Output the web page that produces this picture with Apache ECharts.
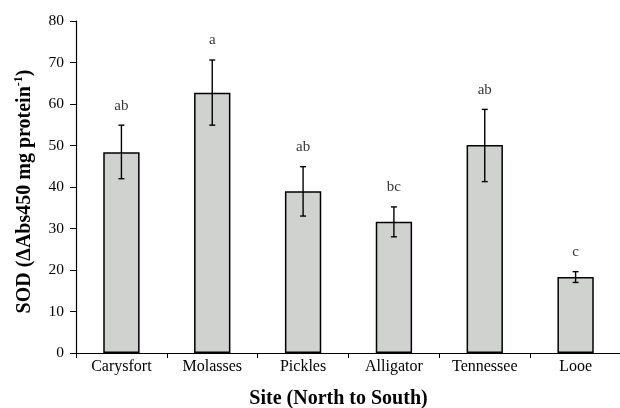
<!DOCTYPE html>
<html>
<head>
<meta charset="utf-8">
<script src="https://cdn.jsdelivr.net/npm/echarts@6/dist/echarts.min.js"></script>
<style>html,body{margin:0;padding:0;background:#fff}#c{width:620px;height:408px}</style>
</head>
<body>
<div id="c"></div>
<script>
var categories = ['Carysfort', 'Molasses', 'Pickles', 'Alligator', 'Tennessee', 'Looe'];
var means = [48.4, 62.7, 39.0, 31.6, 50.1, 18.3];
var errLow = [42.0, 54.9, 33.0, 28.0, 41.3, 17.0];
var errHigh = [54.9, 70.6, 44.9, 35.2, 58.7, 19.6];
var letters = ['ab', 'a', 'ab', 'bc', 'ab', 'c'];
var yTicks = [0, 10, 20, 30, 40, 50, 60, 70, 80];

var FONT = '"Liberation Serif", "Times New Roman", serif';
var chart = echarts.init(document.getElementById('c'));
chart.setOption({
  animation: false,
  backgroundColor: '#fff',
  grid: { left: 76, right: -1, top: 21, bottom: 55, containLabel: false, outerBoundsMode: 'none' },
  xAxis: {
    type: 'category',
    data: categories,
    boundaryGap: true,
    name: 'Site (North to South)',
    nameLocation: 'middle',
    nameGap: 36,
    nameTextStyle: { fontFamily: FONT, fontSize: 20, fontWeight: 'bold', color: '#000', padding: [0, 20, 0, 0] },
    axisLine: { lineStyle: { color: '#000', width: 1.2 } },
    axisTick: { show: true, length: 5, lineStyle: { color: '#000' } },
    axisLabel: { fontFamily: FONT, fontSize: 16, color: '#000', margin: 6 }
  },
  yAxis: {
    type: 'value',
    min: yTicks[0],
    max: yTicks[yTicks.length - 1],
    interval: 10,
    name: '{n|SOD (ΔAbs450 mg protein}{s|-1}{n|)}',
    nameLocation: 'middle',
    nameGap: 39,
    nameTextStyle: {
      fontFamily: FONT, fontSize: 20, fontWeight: 'bold', color: '#000',
      padding: [0, 9, 0, 0],
      rich: {
        n: { fontFamily: FONT, fontSize: 20, fontWeight: 'bold', color: '#000', lineHeight: 24 },
        s: { fontFamily: FONT, fontSize: 12, fontWeight: 'bold', color: '#000', verticalAlign: 'top', lineHeight: 24, padding: [0, 0, 8, 0] }
      }
    },
    splitLine: { show: false },
    axisLine: { show: true, lineStyle: { color: '#000', width: 1.2 } },
    axisTick: { show: true, length: 6, lineStyle: { color: '#000' } },
    axisLabel: { fontFamily: FONT, fontSize: 15.5, color: '#000', margin: 12 }
  },
  series: [
    {
      type: 'bar',
      data: means,
      barWidth: '40%',
      itemStyle: { color: '#d0d2d0', borderColor: '#000', borderWidth: 1.5 }
    },
    {
      type: 'custom',
      data: categories.map(function (c, i) { return [i, errLow[i], errHigh[i]]; }),
      renderItem: function (params, api) {
        var lo = api.coord([api.value(0), api.value(1)]);
        var hi = api.coord([api.value(0), api.value(2)]);
        var w = 3;
        var st = { stroke: '#000', lineWidth: 1.4 };
        return {
          type: 'group',
          children: [
            { type: 'line', shape: { x1: lo[0], y1: lo[1], x2: hi[0], y2: hi[1] }, style: st },
            { type: 'line', shape: { x1: hi[0] - w, y1: hi[1], x2: hi[0] + w, y2: hi[1] }, style: st },
            { type: 'line', shape: { x1: lo[0] - w, y1: lo[1], x2: lo[0] + w, y2: lo[1] }, style: st }
          ]
        };
      },
      z: 5
    },
    {
      type: 'scatter',
      symbolSize: 0,
      data: categories.map(function (c, i) { return [i, errHigh[i]]; }),
      label: {
        show: true,
        position: 'top',
        distance: 12,
        fontFamily: FONT,
        fontSize: 15,
        color: '#000',
        formatter: function (p) { return letters[p.dataIndex]; }
      }
    }
  ]
});
</script>
</body>
</html>
